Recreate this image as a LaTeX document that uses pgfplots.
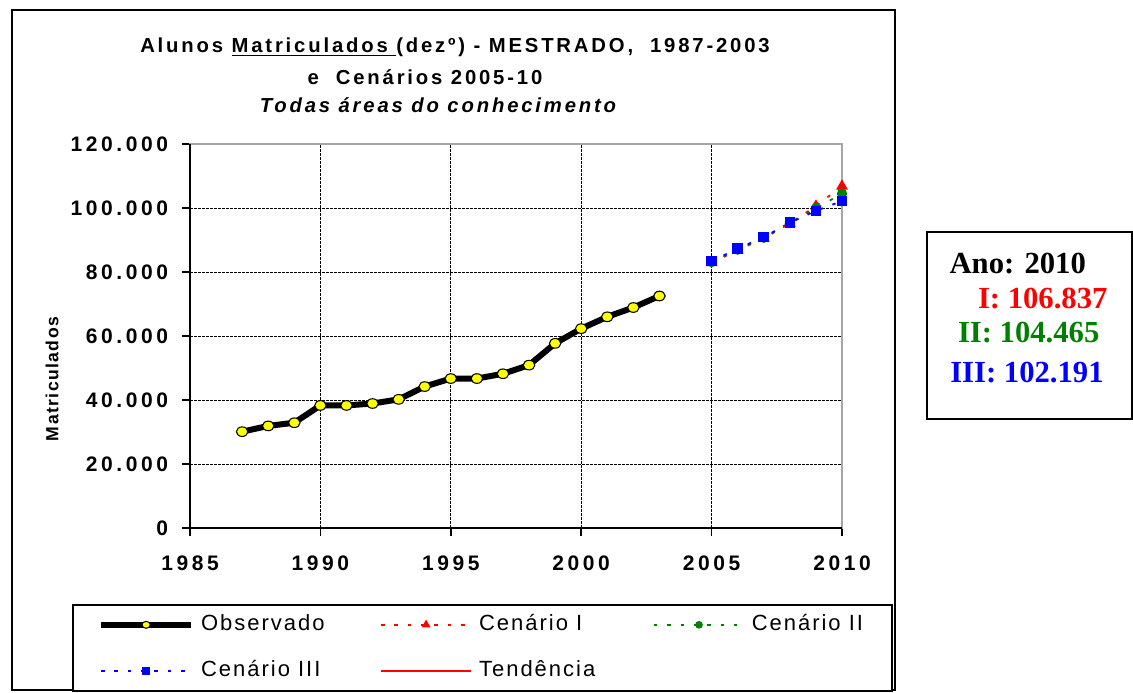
\documentclass[border=0pt]{standalone}
\usepackage{pgfplots}
\pgfplotsset{compat=1.18}
\usepackage{fontspec}
\setmainfont{Liberation Sans}
\newfontfamily\tickfont{Liberation Sans}[LetterSpace=17]
\newfontfamily\titlefont{Liberation Sans}[LetterSpace=14]
\newfontfamily\legfont{Liberation Sans}[LetterSpace=9]
\newfontfamily\ylabfont{Liberation Sans}[LetterSpace=8]
\newfontfamily\boxfont{Liberation Serif}
\definecolor{cred}{HTML}{FF0000}
\definecolor{cgreen}{HTML}{008000}
\definecolor{cblue}{HTML}{0000FF}
\definecolor{cyellow}{HTML}{FFFF00}

\begin{document}
\begin{tikzpicture}
\path[use as bounding box] (0,0) rectangle (849.75pt,519.75pt);
\draw[black,line width=1.5pt] (9pt,2.25pt) rectangle (671.25pt,512.25pt);

% titulo
\begin{scope}[every node/.style={inner sep=0pt,anchor=base}]
\node[font=\titlefont\bfseries\fontsize{15.2}{17}\selectfont] at (341.25pt,480pt)
  {Alunos \underline{Matriculados\ }(dezº) - MESTRADO,\ \ 1987-2003};
\node[font=\titlefont\bfseries\fontsize{15.2}{17}\selectfont] at (318.75pt,456.5pt) {e\ \ Cenários 2005-10};
\node[font=\titlefont\bfseries\itshape\fontsize{15.2}{17}\selectfont] at (328.5pt,435.5pt) {Todas áreas do conhecimento};
\end{scope}

\begin{axis}[at={(142.5pt,123.75pt)},anchor=south west,scale only axis,width=489pt,height=288pt,
 xmin=1985,xmax=2010,ymin=0,ymax=120000,
 xtick={1985,1990,...,2010},ytick={0,20000,...,120000},scaled y ticks=false,
 grid=major,major grid style={black,line width=0.6pt,dash pattern=on 2pt off 1pt},
 axis line style={draw=gray!70,line width=1.5pt},
 tick align=outside,xtick pos=bottom,ytick pos=left,major tick length=6pt,
 tick style={black,line width=1.2pt},
 /pgf/number format/assume math mode=true,
 ticklabel style={font=\tickfont\bfseries\fontsize{15.75}{18}\selectfont},
 yticklabel style={/pgf/number format/fixed,/pgf/number format/1000 sep={.},xshift=-7pt},
 xticklabel style={/pgf/number format/1000 sep={},yshift=-11pt},
 ylabel={Matriculados},
 ylabel style={at={(axis description cs:-0.2117,0.388)},anchor=center,font=\ylabfont\bfseries\fontsize{13.2}{15}\selectfont},
 clip=false,
 legend columns=3,legend cell align=left,
 legend image code/.code={\draw[mark repeat=2,mark phase=2,#1] plot coordinates {(0pt,0pt) (33.75pt,0pt) (67.5pt,0pt)};},
 legend style={at={(axis description cs:-0.181,-0.198)},anchor=north west,draw=black,line width=1.2pt,
   inner xsep=19pt,inner ysep=7.5pt,row sep=19.5pt,
   nodes={inner sep=0pt,text height=12pt,text depth=3pt,font=\legfont\fontsize{16.5}{18}\selectfont},
   /tikz/every odd column/.style={column sep=5.25pt},
   /tikz/every even column/.style={column sep=4.5pt}},
 scen/.style={line width=1.3pt,dash pattern=on 2.6pt off 7.4pt},
]
\addplot[black,line width=4.5pt,mark=*,mark size=3.6pt,
  mark options={fill=cyellow,draw=black,line width=0.8pt,xscale=1.2},
  legend image post style={mark size=2.6pt}] coordinates {
 (1987,30100) (1988,31900) (1989,32900) (1990,38300) (1991,38300) (1992,38900)
 (1993,40200) (1994,44200) (1995,46700) (1996,46700) (1997,48200) (1998,50900)
 (1999,57700) (2000,62300) (2001,66000) (2002,68900) (2003,72500)};
\addlegendentry{\makebox[129.75pt][l]{Observado}}
\addplot[cred,scen,mark=triangle*,mark size=3.8pt,
  mark options={solid,fill=cred},legend image post style={mark size=2.6pt}] coordinates {
 (2005,82900) (2006,86800) (2007,90500) (2008,95200) (2009,100600) (2010,106837)};
\addlegendentry{\makebox[126pt][l]{Cenário I}}
\addplot[cgreen,scen,mark=*,mark size=3.2pt,
  mark options={solid,fill=cgreen},legend image post style={mark size=2.2pt}] coordinates {
 (2005,83100) (2006,87000) (2007,90700) (2008,95300) (2009,99900) (2010,104465)};
\addlegendentry{\makebox[86.25pt][l]{Cenário II}}
\addplot[cblue,scen,mark=square*,mark size=3.3pt,
  mark options={solid,fill=cblue},legend image post style={mark size=2.2pt}] coordinates {
 (2005,83400) (2006,87300) (2007,90900) (2008,95400) (2009,99100) (2010,102191)};
\addlegendentry{\makebox[129.75pt][l]{Cenário III}}
\addlegendimage{cred,line width=1.5pt}
\addlegendentry{\makebox[126pt][l]{Tendência}}
\draw[black,line width=1.8pt] (rel axis cs:0,1) -- (rel axis cs:0,0) -- (rel axis cs:1,0);
\end{axis}

% caixa de texto
\draw[black,line width=1.5pt] (695.25pt,205.5pt) rectangle (849pt,345.75pt);
\begin{scope}[every node/.style={inner sep=0pt,anchor=base west,font=\boxfont\bfseries\fontsize{23}{26}\selectfont}]
\node at (712pt,314.8pt) {Ano: 2010};
\node[text=cred] at (733.3pt,288.5pt) {I: 106.837};
\node[text=cgreen] at (718.3pt,262.7pt) {II: 104.465};
\node[text=cblue] at (712.5pt,233pt) {III: 102.191};
\end{scope}
\end{tikzpicture}
\end{document}
